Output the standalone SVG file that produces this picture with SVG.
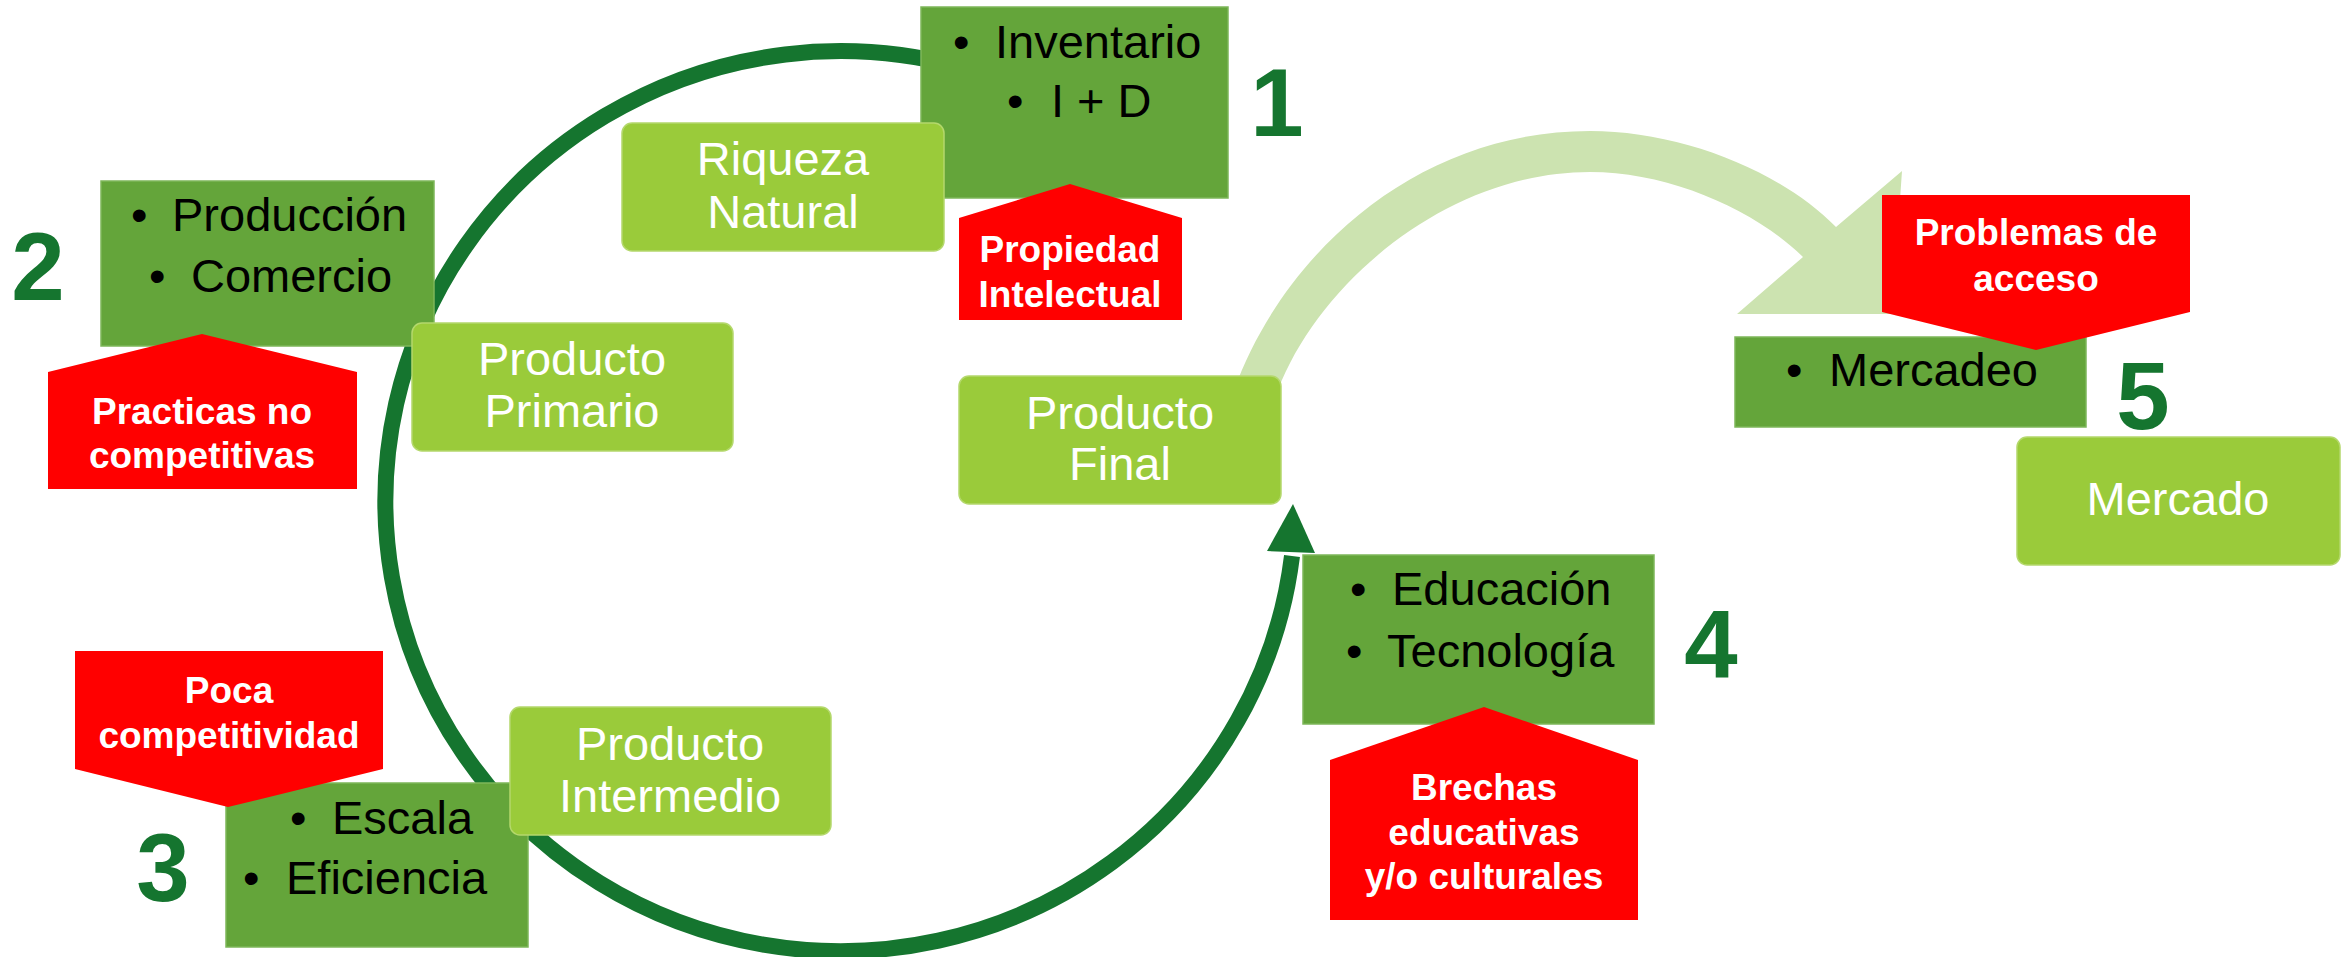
<svg xmlns="http://www.w3.org/2000/svg" width="2349" height="957" viewBox="0 0 2349 957">
<style>
.dk{fill:#64A53A;stroke:#7DB75A;stroke-width:1.5}
.lt{fill:#9ACB3A;stroke:#B4D86C;stroke-width:1.5}
.rd{fill:#FF0000}
.bt{font-family:"Liberation Sans",Arial,sans-serif;font-size:47px;fill:#000}
.wt{font-family:"Liberation Sans",Arial,sans-serif;font-size:47px;fill:#fff;text-anchor:middle}
.rt{font-family:"Liberation Sans",Arial,sans-serif;font-size:37px;font-weight:bold;fill:#fff;text-anchor:middle}
.num{font-family:"Liberation Sans",Arial,sans-serif;font-size:96px;font-weight:bold;fill:#15752F;text-anchor:middle}
</style>
<rect width="2349" height="957" fill="#fff"/>
<g id="connectors">
<path d="M 960,67 A 455 450 0 1 0 1292,556" fill="none" stroke="#15752F" stroke-width="16"/>
<polygon points="1293,504 1267,551 1315,553" fill="#15752F"/>
<path d="M 1234,390 C 1285,250 1420,131 1590,131 C 1680,131 1780,170 1836,227 L 1902,171 L 1892,314 L 1737,314 L 1803,257 C 1755,210 1670,172 1590,172 C 1450,172 1320,280 1278,390 Z" fill="#CCE3B0"/>
</g>
<g id="box1">
<rect class="dk" x="921" y="7" width="307" height="191"/>
<text class="bt" x="953" y="58">•</text><text class="bt" x="995" y="58">Inventario</text>
<text class="bt" x="1007" y="117">•</text><text class="bt" x="1051" y="117">I + D</text>
</g>
<g id="num1"><text class="num" x="1277" y="136">1</text></g>
<g id="riqueza">
<rect class="lt" x="622" y="123" width="322" height="128" rx="10"/>
<text class="wt" x="783" y="175">Riqueza</text><text class="wt" x="783" y="228">Natural</text>
</g>
<g id="propiedad">
<polygon class="rd" points="1070,184 1182,218 1182,320 959,320 959,218"/>
<text class="rt" x="1070" y="262">Propiedad</text><text class="rt" x="1070" y="307">Intelectual</text>
</g>
<g id="box2">
<rect class="dk" x="101" y="181" width="333" height="165"/>
<text class="bt" x="131" y="231">•</text><text class="bt" x="172" y="231">Producción</text>
<text class="bt" x="149" y="292">•</text><text class="bt" x="191" y="292">Comercio</text>
</g>
<g id="num2"><text class="num" x="38" y="300">2</text></g>
<g id="practicas">
<polygon class="rd" points="202,334 357,372 357,489 48,489 48,372"/>
<text class="rt" x="202" y="424">Practicas no</text><text class="rt" x="202" y="468">competitivas</text>
</g>
<g id="primario">
<rect class="lt" x="412" y="323" width="321" height="128" rx="10"/>
<text class="wt" x="572" y="375">Producto</text><text class="wt" x="572" y="427">Primario</text>
</g>
<g id="final">
<rect class="lt" x="959" y="376" width="322" height="128" rx="10"/>
<text class="wt" x="1120" y="429">Producto</text><text class="wt" x="1120" y="480">Final</text>
</g>
<g id="box3">
<rect class="dk" x="226" y="783" width="302" height="164"/>
<text class="bt" x="290" y="834">•</text><text class="bt" x="332" y="834">Escala</text>
<text class="bt" x="243" y="894">•</text><text class="bt" x="286" y="894">Eficiencia</text>
</g>
<g id="num3"><text class="num" x="163" y="901">3</text></g>
<g id="poca">
<polygon class="rd" points="75,651 383,651 383,769 228,807 75,769"/>
<text class="rt" x="229" y="703">Poca</text><text class="rt" x="229" y="748">competitividad</text>
</g>
<g id="intermedio">
<rect class="lt" x="510" y="707" width="321" height="128" rx="10"/>
<text class="wt" x="670" y="760">Producto</text><text class="wt" x="670" y="812">Intermedio</text>
</g>
<g id="box4">
<rect class="dk" x="1303" y="555" width="351" height="169"/>
<text class="bt" x="1350" y="605">•</text><text class="bt" x="1392" y="605">Educación</text>
<text class="bt" x="1346" y="667">•</text><text class="bt" x="1387" y="667">Tecnología</text>
</g>
<g id="num4"><text class="num" x="1711" y="678">4</text></g>
<g id="brechas">
<polygon class="rd" points="1484,707 1638,760 1638,920 1330,920 1330,760"/>
<text class="rt" x="1484" y="800">Brechas</text><text class="rt" x="1484" y="845">educativas</text><text class="rt" x="1484" y="889">y/o culturales</text>
</g>
<g id="mercadeo">
<rect class="dk" x="1735" y="337" width="351" height="90"/>
<text class="bt" x="1786" y="386">•</text><text class="bt" x="1829" y="386">Mercadeo</text>
</g>
<g id="problemas">
<polygon class="rd" points="1882,195 2190,195 2190,312 2036,350 1882,312"/>
<text class="rt" x="2036" y="245">Problemas de</text><text class="rt" x="2036" y="291">acceso</text>
</g>
<g id="num5"><text class="num" x="2143" y="429">5</text></g>
<g id="mercado">
<rect class="lt" x="2017" y="437" width="323" height="128" rx="10"/>
<text class="wt" x="2178" y="515">Mercado</text>
</g>
</svg>
